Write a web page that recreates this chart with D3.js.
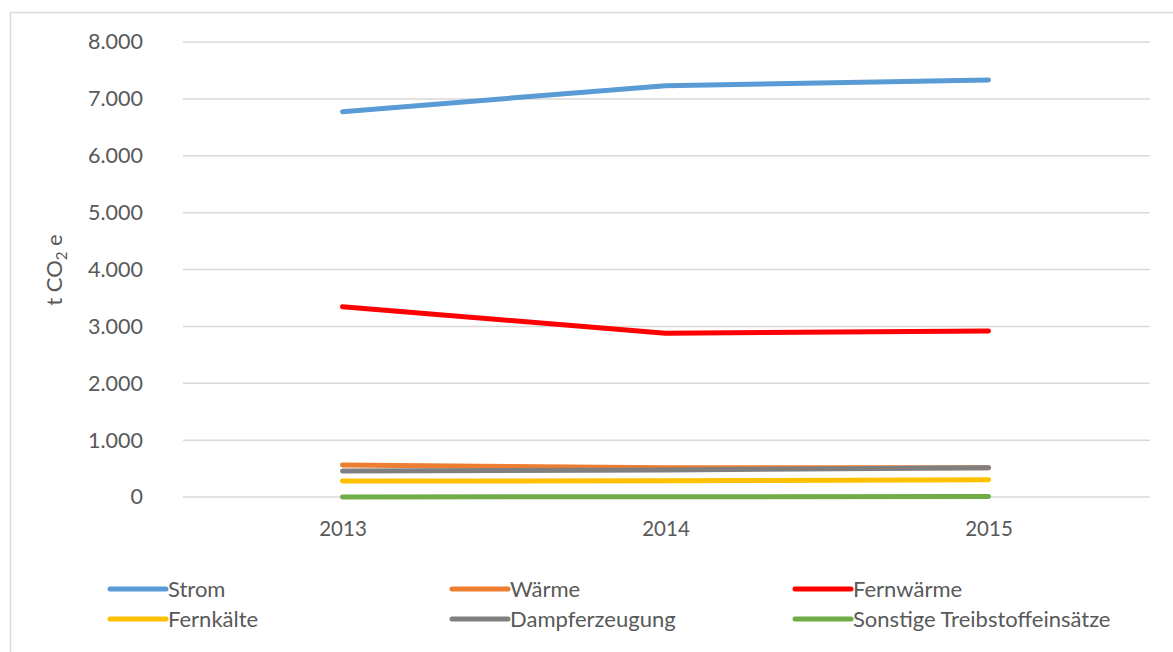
<!DOCTYPE html>
<html>
<head>
<meta charset="utf-8">
<script src="https://cdn.jsdelivr.net/npm/d3@7"></script>
<style>
  body { margin: 0; background: #fff; }
  text { font-family: Lato, "Open Sans", sans-serif; fill: #595959; }
</style>
</head>
<body>
<div id="chart"></div>
<script>
// data
const years = ["2013", "2014", "2015"];
const seriesNames = ["Strom", "Wärme", "Fernwärme", "Fernkälte", "Dampferzeugung", "Sonstige Treibstoffeinsätze"];
const strom = [6775, 7232, 7332];
const waerme = [563, 515, 515];
const fernwaerme = [3346, 2878, 2919];
const fernkaelte = [281, 285, 304];
const dampf = [457, 475, 515];
const sonstige = [2, 5, 10];
const yTicks = [0, 1000, 2000, 3000, 4000, 5000, 6000, 7000, 8000];
const colors = ["#5B9BD5", "#ED7D31", "#FF0000", "#FFC000", "#7F7F7F", "#70AD47"];

const allValues = [strom, waerme, fernwaerme, fernkaelte, dampf, sonstige];
const series = seriesNames.map((name, i) => ({
  name: name,
  color: colors[i],
  values: allValues[i].map((v, j) => ({ year: years[j], value: v })),
}));

const width = 1173, height = 652;
const margin = { top: 42, right: 23, bottom: 155, left: 181 };

const svg = d3.select("#chart").append("svg")
  .attr("width", width)
  .attr("height", height);

// outer chart border (only top and left visible in the shot)
svg.append("rect")
  .attr("x", 10.5).attr("y", 12.5)
  .attr("width", width).attr("height", height)
  .attr("fill", "none")
  .attr("stroke", "#d9d9d9")
  .attr("stroke-width", 1.5);

const x = d3.scalePoint()
  .domain(years)
  .range([margin.left, width - margin.right])
  .padding(0.5);

const y = d3.scaleLinear()
  .domain([0, 8000])
  .range([height - margin.bottom, margin.top]);

// gridlines
svg.append("g")
  .selectAll("line")
  .data(yTicks)
  .join("line")
  .attr("x1", margin.left + 2)
  .attr("x2", width - margin.right)
  .attr("y1", d => y(d))
  .attr("y2", d => y(d))
  .attr("stroke", "#d9d9d9")
  .attr("stroke-width", 1.5);

// y axis labels
const fmt = d3.formatLocale({ decimal: ",", thousands: ".", grouping: [3], currency: ["", "€"] }).format(",");
const yAxis = d3.axisLeft(y).tickValues(yTicks).tickFormat(fmt).tickSize(0).tickPadding(0);
svg.append("g")
  .attr("transform", `translate(143,0)`)
  .call(yAxis)
  .call(g => g.select(".domain").remove())
  .selectAll("text")
  .attr("font-size", 21.5)
  .attr("fill", "#595959")
  .attr("font-family", "Lato, sans-serif");

// x axis labels
const xAxis = d3.axisBottom(x).tickSize(0).tickPadding(0);
svg.append("g")
  .attr("transform", `translate(0,${y(0) + 24})`)
  .call(xAxis)
  .call(g => g.select(".domain").remove())
  .selectAll("text")
  .attr("font-size", 20.5)
  .attr("fill", "#595959")
  .attr("font-family", "Lato, sans-serif");

// y axis title
const yTitle = svg.append("text")
  .attr("transform", "translate(62,270) rotate(-90)")
  .attr("text-anchor", "middle")
  .attr("font-size", 22);
yTitle.append("tspan").text("t CO");
yTitle.append("tspan").attr("font-size", 15).attr("dy", 5).text("2");
yTitle.append("tspan").attr("dy", -5).text(" e");

// lines
const line = d3.line()
  .x(d => x(d.year))
  .y(d => y(d.value));

svg.append("g")
  .selectAll("path")
  .data(series)
  .join("path")
  .attr("d", d => line(d.values))
  .attr("fill", "none")
  .attr("stroke", d => d.color)
  .attr("stroke-width", 5)
  .attr("stroke-linecap", "round")
  .attr("stroke-linejoin", "round");

// legend
const legendX = [110, 452, 795];
const legendY = [589, 619];
const legend = svg.append("g")
  .selectAll("g")
  .data(series)
  .join("g")
  .attr("transform", (d, i) => `translate(${legendX[i % 3]},${legendY[Math.floor(i / 3)]})`);

legend.append("line")
  .attr("x1", 0).attr("x2", 56)
  .attr("stroke", d => d.color)
  .attr("stroke-width", 5)
  .attr("stroke-linecap", "round");

legend.append("text")
  .attr("x", 58)
  .attr("dy", "0.35em")
  .attr("font-size", 22)
  .text(d => d.name);
</script>
</body>
</html>
